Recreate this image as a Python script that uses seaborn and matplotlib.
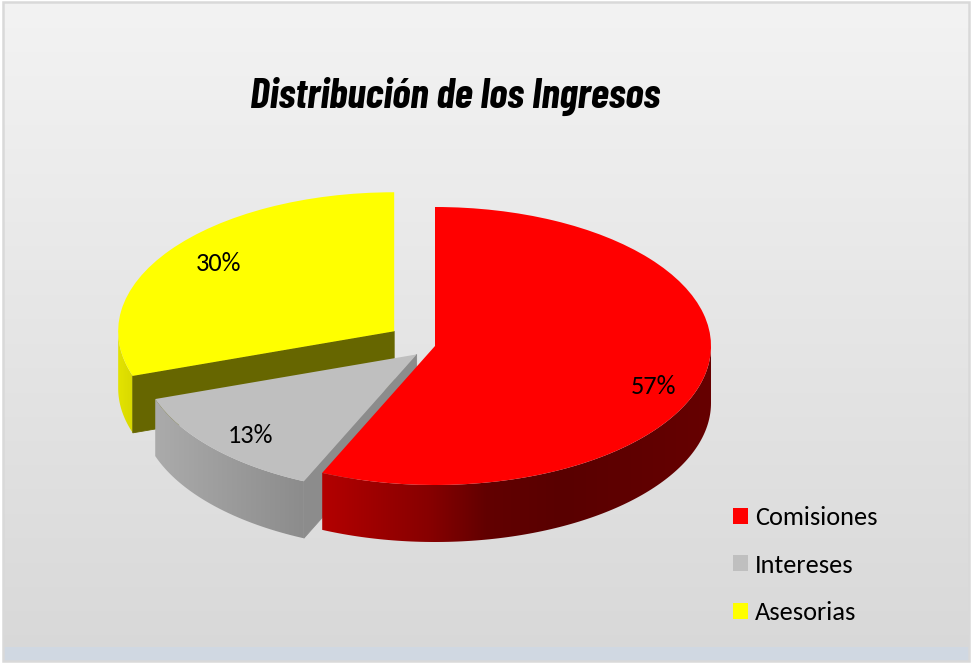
import numpy as np
import matplotlib
matplotlib.use("Agg")
import matplotlib.pyplot as plt
from matplotlib.colors import LinearSegmentedColormap
from matplotlib.patches import Polygon, Rectangle
import seaborn as sns

titulo = "Distribución de los Ingresos"
categorias = ["Comisiones", "Intereses", "Asesorias"]
valores = [56.7, 13.1, 30.2]
separacion = [0, 0.09, 0.182]
colores = ["#ff0000", "#bfbfbf", "#ffff00"]

# colores del lateral 3D, de izquierda a derecha
degradados = [
    [(0, "#b30000"), (0.28, "#860000"), (0.42, "#620000"), (0.62, "#590000"), (1, "#660000")],
    [(0, "#ababab"), (1, "#8c8c8c")],
    [(0, "#e3e300"), (1, "#d9d900")],
]
caras_corte = [None, "#8c8c8c", "#666600"]
# ajuste de las etiquetas de porcentaje, en pixeles (x, y hacia abajo)
ajuste_etiquetas = [(-3, 17), (1, 4), (8, -1)]

ANCHO, ALTO = 971, 664
CENTRO_X, CENTRO_Y = 435, 346  # centro del sector rojo, en pixeles
RADIO_X, RADIO_Y = 276, 139
PROFUNDIDAD = 57 / RADIO_Y

sns.set_theme(style="white")
plt.rcParams["font.family"] = ["Carlito", "Lato", "DejaVu Sans"]

fig = plt.figure(figsize=(ANCHO / 100, ALTO / 100), dpi=100, facecolor="white")

# fondo con degradado, banda azulada abajo y marco
fondo = fig.add_axes([0, 0, 1, 1])
fondo.axis("off")
gris = LinearSegmentedColormap.from_list("fondo", ["#f3f3f3", "#d8d8d8"])
fondo.imshow(np.linspace(0, 1, 256).reshape(-1, 1), cmap=gris, aspect="auto",
             extent=[4, 969, 661, 2], zorder=1)
fondo.add_patch(Rectangle((4, 647), 965, 14, color="#d0d8e2", lw=0, zorder=2))
fondo.add_patch(Rectangle((3, 1.5), 966, 659.5, fill=False, ec="#d9d9d9", lw=1.8, zorder=3))
fondo.set_xlim(0, ANCHO)
fondo.set_ylim(ALTO, 0)

ax = fig.add_axes([0, 0, 1, 1])
ax.axis("off")
ax.patch.set_alpha(0)

paleta = sns.color_palette(colores)
sectores, _, porcentajes = ax.pie(valores, explode=separacion, colors=paleta, startangle=90,
                                  counterclock=False, autopct="%1.0f%%", pctdistance=0.82,
                                  radius=1, textprops={"fontsize": 19, "color": "black"})


def dibujar_lateral(sector, stops, cara, z):
    cx, cy = sector.center
    ini = max(sector.theta1, -180)
    fin = min(sector.theta2, 0)
    t = np.radians(np.linspace(ini, fin, 120))
    xs = cx + np.cos(t)
    ys = cy + np.sin(t)
    puntos = np.r_[np.c_[xs, ys], np.c_[xs, ys - PROFUNDIDAD][::-1]]
    cmap = LinearSegmentedColormap.from_list("lateral", stops)
    im = ax.imshow(np.linspace(0, 1, 256).reshape(1, -1), cmap=cmap, aspect="auto",
                   extent=[xs.min(), xs.max(), ys.min() - PROFUNDIDAD, ys.max()], zorder=z)
    im.set_clip_path(Polygon(puntos, transform=ax.transData))
    if cara is not None:
        # cara de corte visible del sector separado
        a = np.radians(sector.theta2)
        borde = (cx + np.cos(a), cy + np.sin(a))
        ax.add_patch(Polygon([(cx, cy), borde, (borde[0], borde[1] - PROFUNDIDAD),
                              (cx, cy - PROFUNDIDAD)], fc=cara, ec=cara, lw=0.6, zorder=z + 0.1))


# orden de atras hacia adelante: amarillo, gris, rojo
for orden, i in enumerate([2, 1, 0]):
    z = 2 + orden
    dibujar_lateral(sectores[i], degradados[i], caras_corte[i], z)
    sectores[i].set_zorder(z + 0.2)
    sectores[i].set_linewidth(0)
for texto, (dx, dy) in zip(porcentajes, ajuste_etiquetas):
    texto.set_zorder(10)
    x, y = texto.get_position()
    texto.set_position((x + dx / RADIO_X, y - dy / RADIO_Y))

ax.set_aspect("auto")
ax.set_xlim(-CENTRO_X / RADIO_X, (ANCHO - CENTRO_X) / RADIO_X)
ax.set_ylim(-(ALTO - CENTRO_Y) / RADIO_Y, CENTRO_Y / RADIO_Y)

fig.text(455 / ANCHO, 1 - 96 / ALTO, titulo,
         family=["Barlow Condensed", "Roboto Condensed", "DejaVu Sans"],
         fontsize=30.3, fontweight="bold", fontstyle="italic", color="black",
         ha="center", va="center")

ax.legend(sectores, categorias, loc="upper left", bbox_to_anchor=(733 / ANCHO, 1 - 506 / ALTO),
          bbox_transform=fig.transFigure, frameon=False, fontsize=19, labelcolor="black",
          handlelength=0.57, handleheight=0.57, handletextpad=0.27, labelspacing=0.93,
          borderpad=0, borderaxespad=0)

fig.savefig("out.png", dpi=100)
